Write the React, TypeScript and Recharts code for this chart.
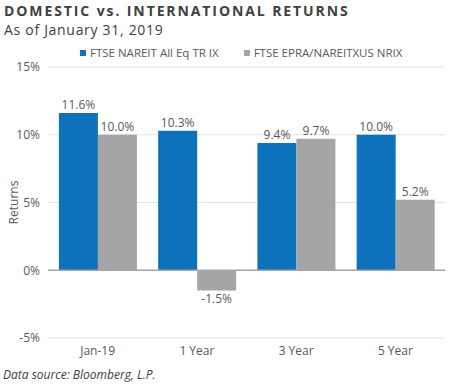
import { BarChart, Bar, XAxis, YAxis, CartesianGrid, LabelList, ReferenceLine } from 'recharts';

const periods = ['Jan-19', '1 Year', '3 Year', '5 Year'];
const nareitAllEq = [11.6, 10.3, 9.4, 10.0];
const epraNareitXus = [10.0, -1.5, 9.7, 5.2];
const yTicks = [-5, 0, 5, 10, 15];

const data = periods.map((period, i) => ({
  period,
  domestic: nareitAllEq[i],
  international: epraNareitXus[i],
}));

const series = [
  { key: 'domestic', name: 'FTSE NAREIT All Eq TR IX', color: '#0e71bb' },
  { key: 'international', name: 'FTSE EPRA/NAREITXUS NRIX', color: '#a5a5a7' },
];

const FONT = '"Open Sans", "Noto Sans", sans-serif';
const TEXT = '#595959';

export default function App() {
  return (
    <div style={{ position: 'absolute', left: 0, top: 0, width: 450, height: 386, background: '#fff', fontFamily: FONT }}>
      <div style={{ position: 'absolute', left: 4, top: 3, fontSize: 14, lineHeight: '16px', fontWeight: 700, letterSpacing: 1.9, color: '#404040', whiteSpace: 'nowrap' }}>
        DOMESTIC vs. INTERNATIONAL RETURNS
      </div>
      <div style={{ position: 'absolute', left: 4, top: 21, fontSize: 14, lineHeight: '17px', letterSpacing: 0.7, color: '#404040', whiteSpace: 'nowrap' }}>
        As of January 31, 2019
      </div>
      <div style={{ position: 'absolute', left: 80, top: 45, display: 'flex', fontSize: 11.5, lineHeight: '16px', color: TEXT, whiteSpace: 'nowrap' }}>
        {series.map((s, i) => (
          <div key={s.key} style={{ display: 'flex', alignItems: 'center', marginLeft: i ? 25 : 0 }}>
            <span style={{ width: 6, height: 6, background: s.color, marginRight: 4, display: 'inline-block' }} />
            {s.name}
          </div>
        ))}
      </div>
      <BarChart width={450} height={386} data={data} margin={{ top: 67, right: 5, bottom: 28, left: 8 }} barCategoryGap="11%" barGap={0}>
        <CartesianGrid vertical={false} stroke="#e3e3e3" />
        <XAxis dataKey="period" axisLine={false} tickLine={false} height={20} tick={{ fill: TEXT, fontSize: 12, fontFamily: FONT }} />
        <YAxis
          domain={[-5, 15]}
          ticks={yTicks}
          width={40}
          axisLine={false}
          tickLine={false}
          tickFormatter={(v: number) => `${v}%`}
          tick={{ fill: TEXT, fontSize: 12, fontFamily: FONT }}
          label={{ value: 'Returns', angle: -90, position: 'insideLeft', offset: 6, style: { fill: TEXT, fontSize: 12, fontFamily: FONT, textAnchor: 'middle' } }}
        />
        <ReferenceLine y={0} stroke="#a6a6a6" strokeWidth={1.5} />
        {series.map((s) => (
          <Bar key={s.key} dataKey={s.key} name={s.name} fill={s.color} isAnimationActive={false}>
            <LabelList dataKey={s.key} position="top" offset={4} formatter={(v: number) => `${v.toFixed(1)}%`} style={{ fill: TEXT, fontSize: 12, fontFamily: FONT }} />
          </Bar>
        ))}
      </BarChart>
      <div style={{ position: 'absolute', left: 3, top: 366, fontSize: 12, fontStyle: 'italic', color: '#404040', whiteSpace: 'nowrap' }}>
        Data source: Bloomberg, L.P.
      </div>
    </div>
  );
}
